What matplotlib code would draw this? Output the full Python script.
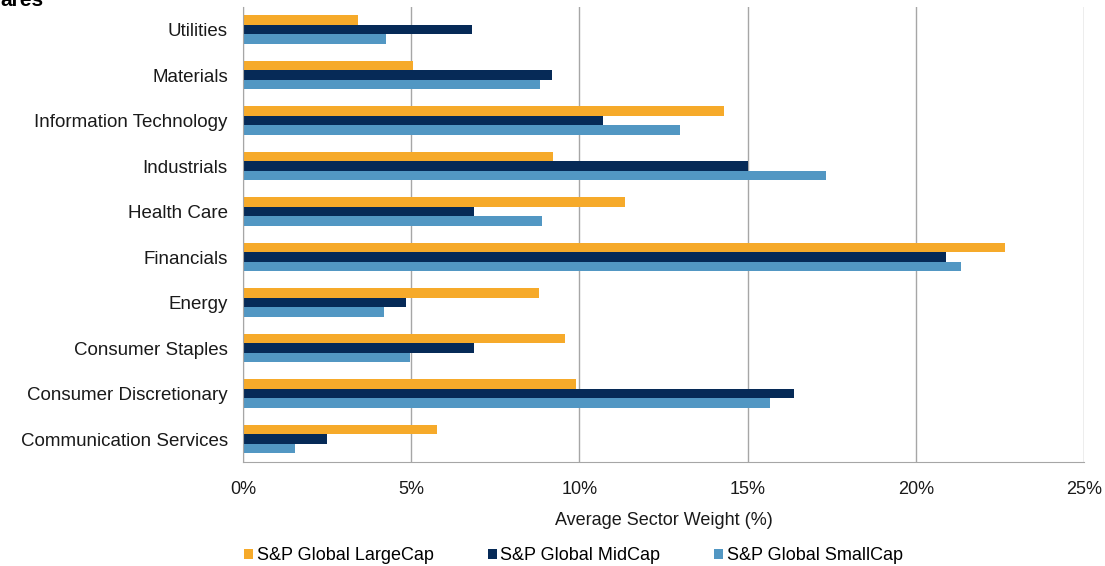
import numpy as np
import matplotlib
matplotlib.use('Agg')
import matplotlib.pyplot as plt
from matplotlib.ticker import FuncFormatter

plt.rcParams['font.family'] = ['Liberation Sans', 'DejaVu Sans']

sectors = ['Communication Services', 'Consumer Discretionary', 'Consumer Staples',
           'Energy', 'Financials', 'Health Care', 'Industrials',
           'Information Technology', 'Materials', 'Utilities']
large_cap = [5.77, 9.89, 9.56, 8.79, 22.65, 11.35, 9.21, 14.31, 5.06, 3.43]
mid_cap = [2.48, 16.39, 6.87, 4.84, 20.89, 6.87, 15.02, 10.70, 9.18, 6.81]
small_cap = [1.55, 15.67, 4.95, 4.18, 21.34, 8.90, 17.32, 13.00, 8.84, 4.25]
series_names = ['S&P Global LargeCap', 'S&P Global MidCap', 'S&P Global SmallCap']
colors = ['#F6AA2A', '#062A57', '#5297C3']

fig = plt.figure(figsize=(11.05, 5.66), dpi=100)
ax = fig.add_axes([0.22, 0.184, 0.761, 0.804])

y = np.arange(len(sectors))
h = 0.21
ax.barh(y + h, large_cap, h, color=colors[0], label=series_names[0])
ax.barh(y, mid_cap, h, color=colors[1], label=series_names[1])
ax.barh(y - h, small_cap, h, color=colors[2], label=series_names[2])

ax.set_xlim(0, 25)
ax.set_ylim(-0.5, len(sectors) - 0.5)
ax.set_xticks([0, 5, 10, 15, 20, 25])
ax.xaxis.set_major_formatter(FuncFormatter(lambda v, p: f'{v:.0f}%'))
ax.set_yticks(y)
ax.set_yticklabels(sectors)
ax.tick_params(axis='both', length=0, colors='#1a1a1a')
ax.tick_params(axis='y', pad=11, labelsize=13.5)
ax.tick_params(axis='x', pad=14, labelsize=13)

ax.grid(axis='x', color='#A6A6A6', linewidth=1)
ax.set_axisbelow(True)
for s in ['top', 'right']:
    ax.spines[s].set_visible(False)
ax.spines['left'].set_color('#A6A6A6')
ax.spines['bottom'].set_color('#A6A6A6')

ax.set_xlabel('Average Sector Weight (%)', fontsize=13, color='#1a1a1a', labelpad=10)

fig.legend(loc='lower center', bbox_to_anchor=(0.519, -0.026), ncol=3, frameon=False,
           fontsize=13, handlelength=0.5, handleheight=0.5, handletextpad=0.2,
           columnspacing=3.0)

fig.text(0.0, 1.0, 'ares', fontsize=15, fontweight='bold', va='center', ha='left')

fig.savefig('out.png', dpi=100)
